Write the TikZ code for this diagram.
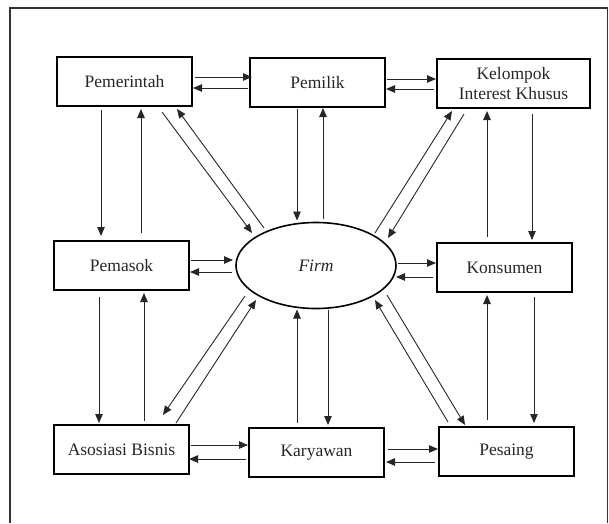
\documentclass[tikz,border=0pt]{standalone}
\usepackage{fontspec}
\setmainfont{Liberation Serif}
\usetikzlibrary{arrows.meta,shapes.geometric}
\newcommand\myconn[4]{\draw[arr] ([shift={#2}]#1.center) -- ([shift={#4}]#3.center);}
\begin{document}
\begin{tikzpicture}[x=1pt,y=-1pt,
  box/.style={draw=black,line width=2pt,minimum width=135pt,minimum height=49pt,inner sep=0pt,
    font=\fontsize{17.5}{20}\selectfont,text=black!85,align=center},
  firmnode/.style={draw=black,ellipse,line width=1.6pt,minimum width=160pt,minimum height=86pt,inner sep=0pt,
    font=\fontsize{17.5}{20}\selectfont\itshape,text=black!85},
  arr/.style={draw=black!85,line width=0.9pt,-{Triangle[length=9pt,width=7.5pt]}},
  frame/.style={draw=black!80,line width=1.5pt}]
\useasboundingbox (0,0) rectangle (609,523);
\draw[frame] (10,523) -- (10,8) -- (607.5,8) -- (607.5,523);
% nodes
\node[box] (gov) at (124.5,81.5) {Pemerintah};
\node[box] (own) at (317.5,82.5) {Pemilik};
\node[box,minimum width=153pt] (kel) at (513.5,83.5) {Kelompok\\Interest Khusus};
\node[box] (sup) at (121.5,265.5) {Pemasok};
\node[firmnode] (firm) at (316,265.5) {Firm};
\node[box] (kon) at (504.5,267.5) {Konsumen};
\node[box] (aso) at (121.5,449.5) {Asosiasi Bisnis};
\node[box] (kar) at (316.5,452.5) {Karyawan};
\node[box] (pes) at (506.5,451.5) {Pesaing};
% horizontal connectors
\myconn{gov}{(70.5,-4.5)}{own}{(-65.5,-5.5)}
\myconn{own}{(-69.5,5.5)}{gov}{(68.5,6.5)}
\myconn{own}{(69.5,-3.5)}{kel}{(-77.5,-4.5)}
\myconn{kel}{(-79.5,5.5)}{own}{(68.5,6.5)}
\myconn{sup}{(69.5,-5.5)}{firm}{(-83,-5.5)}
\myconn{firm}{(-84,6.5)}{sup}{(68.5,6.5)}
\myconn{firm}{(82,-2.5)}{kon}{(-68.5,-4.5)}
\myconn{kon}{(-71.5,9.5)}{firm}{(80,11.5)}
\myconn{aso}{(69.5,-4.5)}{kar}{(-68.5,-7.5)}
\myconn{kar}{(-70.5,6.5)}{aso}{(67.5,9.5)}
\myconn{kar}{(71.5,-3.5)}{pes}{(-68.5,-2.5)}
\myconn{pes}{(-71.5,10.5)}{kar}{(69.5,9.5)}
% vertical connectors
\myconn{gov}{(-23.5,28.5)}{sup}{(-20.5,-29.5)}
\myconn{sup}{(19.5,-32.5)}{gov}{(16.5,27.5)}
\myconn{sup}{(-22.5,31.5)}{aso}{(-22.5,-26.5)}
\myconn{aso}{(22.5,-28.5)}{sup}{(22.5,27.5)}
\myconn{own}{(-20.5,26.5)}{firm}{(-19,-45)}
\myconn{firm}{(7,-46.5)}{own}{(5.5,25.5)}
\myconn{firm}{(12,44.5)}{kar}{(11.5,-27.5)}
\myconn{kar}{(-19.5,-29.5)}{firm}{(-19,44)}
\myconn{kon}{(-17.5,-30.5)}{kel}{(-26.5,27.5)}
\myconn{kel}{(18.5,30.5)}{kon}{(27.5,-27.5)}
\myconn{pes}{(-19.5,-31.5)}{kon}{(-17.5,27.5)}
\myconn{kon}{(29.5,29.5)}{pes}{(27.5,-28.5)}
% diagonal connectors
\myconn{gov}{(37.5,30.5)}{firm}{(-64,-32.5)}
\myconn{firm}{(-52,-37.5)}{gov}{(52.5,27.5)}
\myconn{firm}{(59,-32.5)}{kel}{(-61.5,27.5)}
\myconn{kel}{(-49.5,30.5)}{firm}{(72,-27.5)}
\myconn{firm}{(-71,30.5)}{aso}{(41.5,-34.5)}
\myconn{aso}{(54.5,-26.5)}{firm}{(-60,34.5)}
\myconn{firm}{(71,29.5)}{pes}{(-41.5,-26.5)}
\myconn{pes}{(-58.5,-29.5)}{firm}{(59,34.5)}
\end{tikzpicture}
\end{document}
